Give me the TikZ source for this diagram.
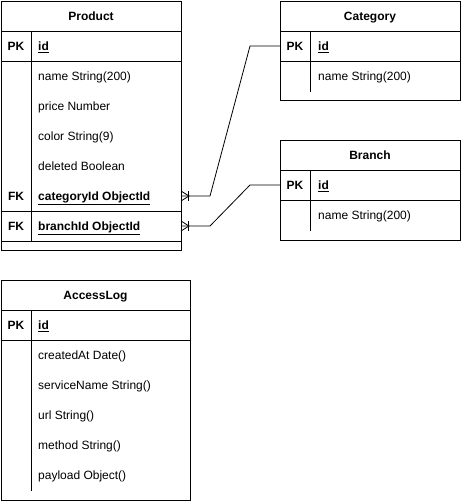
\documentclass[tikz,border=0pt]{standalone}
\usepackage{fontspec}
\setmainfont{Liberation Sans}
\usetikzlibrary{calc}
\begin{document}
\begin{tikzpicture}[x=1pt,y=-1pt,
  ln/.style={line width=1pt, line cap=rect},
  tbl/.style={draw, line width=1pt, anchor=north west, inner sep=0pt, outer sep=0pt},
  rowbox/.style={anchor=north west, inner sep=0pt, outer sep=0pt, minimum height=30pt},
  ttl/.style={font=\fontsize{12pt}{14pt}\selectfont\bfseries, inner sep=0pt, anchor=base},
  keyl/.style={font=\fontsize{12pt}{14pt}\selectfont\bfseries, inner sep=0pt, anchor=base},
  fld/.style={font=\fontsize{12pt}{14pt}\selectfont, anchor=base west, inner sep=0pt},
  conn/.style={line width=0.8pt}
]
\useasboundingbox (0,0) rectangle (461,501);
\fill[white] (0,0) rectangle (461,501);

% ---------- Product ----------
\node[tbl, minimum width=180pt, minimum height=249pt] (product) at (1,1) {};
\node[ttl] (product-t) at (91,20.5) {Product};
\draw[ln] (1,31) -- (181,31);
\draw[ln] (1,61) -- (181,61);
\draw[ln] (1,211) -- (181,211);
\draw[ln] (1,241) -- (181,241);
\draw[ln] (31,31) -- (31,241);
\node[keyl] (p-pk) at (16,50.5) {PK};
\node[fld] (p-id) at (38,50.5) {\underline{\textbf{id}}};
\node[fld] (p-name) at (38,80.5) {name String(200)};
\node[fld] (p-price) at (38,110.5) {price Number};
\node[fld] (p-color) at (38,140.5) {color String(9)};
\node[fld] (p-del) at (38,170.5) {deleted Boolean};
\node[keyl] (p-fk1) at (16,200.5) {FK};
\node[fld] (p-catid) at (38,200.5) {\underline{\textbf{categoryId ObjectId}}};
\node[keyl] (p-fk2) at (16,230.5) {FK};
\node[fld] (p-brid) at (38,230.5) {\underline{\textbf{branchId ObjectId}}};
\node[rowbox, minimum width=180pt] (p-cat) at (1,181) {};
\node[rowbox, minimum width=180pt] (p-br) at (1,211) {};

% ---------- Category ----------
\node[tbl, minimum width=180pt, minimum height=99pt] (category) at (280,1) {};
\node[ttl] (category-t) at (370,20.5) {Category};
\draw[ln] (280,31) -- (460,31);
\draw[ln] (280,61) -- (460,61);
\draw[ln] (310,31) -- (310,91);
\node[keyl] (c-pk) at (295,50.5) {PK};
\node[fld] (c-idt) at (318,50.5) {\underline{\textbf{id}}};
\node[fld] (c-name) at (318,80.5) {name String(200)};
\node[rowbox, minimum width=180pt] (c-id) at (280,31) {};

% ---------- Branch ----------
\node[tbl, minimum width=180pt, minimum height=100pt] (branch) at (280,140) {};
\node[ttl] (branch-t) at (370,159.5) {Branch};
\draw[ln] (280,170) -- (460,170);
\draw[ln] (280,200) -- (460,200);
\draw[ln] (310,170) -- (310,230);
\node[keyl] (b-pk) at (295,189.5) {PK};
\node[fld] (b-idt) at (318,189.5) {\underline{\textbf{id}}};
\node[fld] (b-name) at (318,219.5) {name String(200)};
\node[rowbox, minimum width=180pt] (b-id) at (280,170) {};

% ---------- AccessLog ----------
\node[tbl, minimum width=189pt, minimum height=220pt] (accesslog) at (1,280) {};
\node[ttl] (accesslog-t) at (95.5,299.5) {AccessLog};
\draw[ln] (1,310) -- (190,310);
\draw[ln] (1,340) -- (190,340);
\draw[ln] (31,310) -- (31,490);
\node[keyl] (a-pk) at (16,329.5) {PK};
\node[fld] (a-id) at (38,329.5) {\underline{\textbf{id}}};
\node[fld] (a-created) at (38,359.5) {createdAt Date()};
\node[fld] (a-service) at (38,389.5) {serviceName String()};
\node[fld] (a-url) at (38,419.5) {url String()};
\node[fld] (a-method) at (38,449.5) {method String()};
\node[fld] (a-payload) at (38,479.5) {payload Object()};

% ---------- Connectors ----------
\draw[conn] (p-cat.east) -- ++(29,0) -- ($(c-id.west)+(-30,0)$) -- (c-id.west);
\draw[conn] (p-br.east) -- ++(29,0) -- ($(b-id.west)+(-30,0)$) -- (b-id.west);
% crow's foot (one or many) at Product end
\foreach \n in {p-cat,p-br}{
  \draw[conn] ($(\n.east)+(0,-5)$) -- ($(\n.east)+(8,0)$) -- ($(\n.east)+(0,5)$);
  \draw[conn] ($(\n.east)+(7,-5)$) -- ($(\n.east)+(7,5)$);
}
\end{tikzpicture}
\end{document}
